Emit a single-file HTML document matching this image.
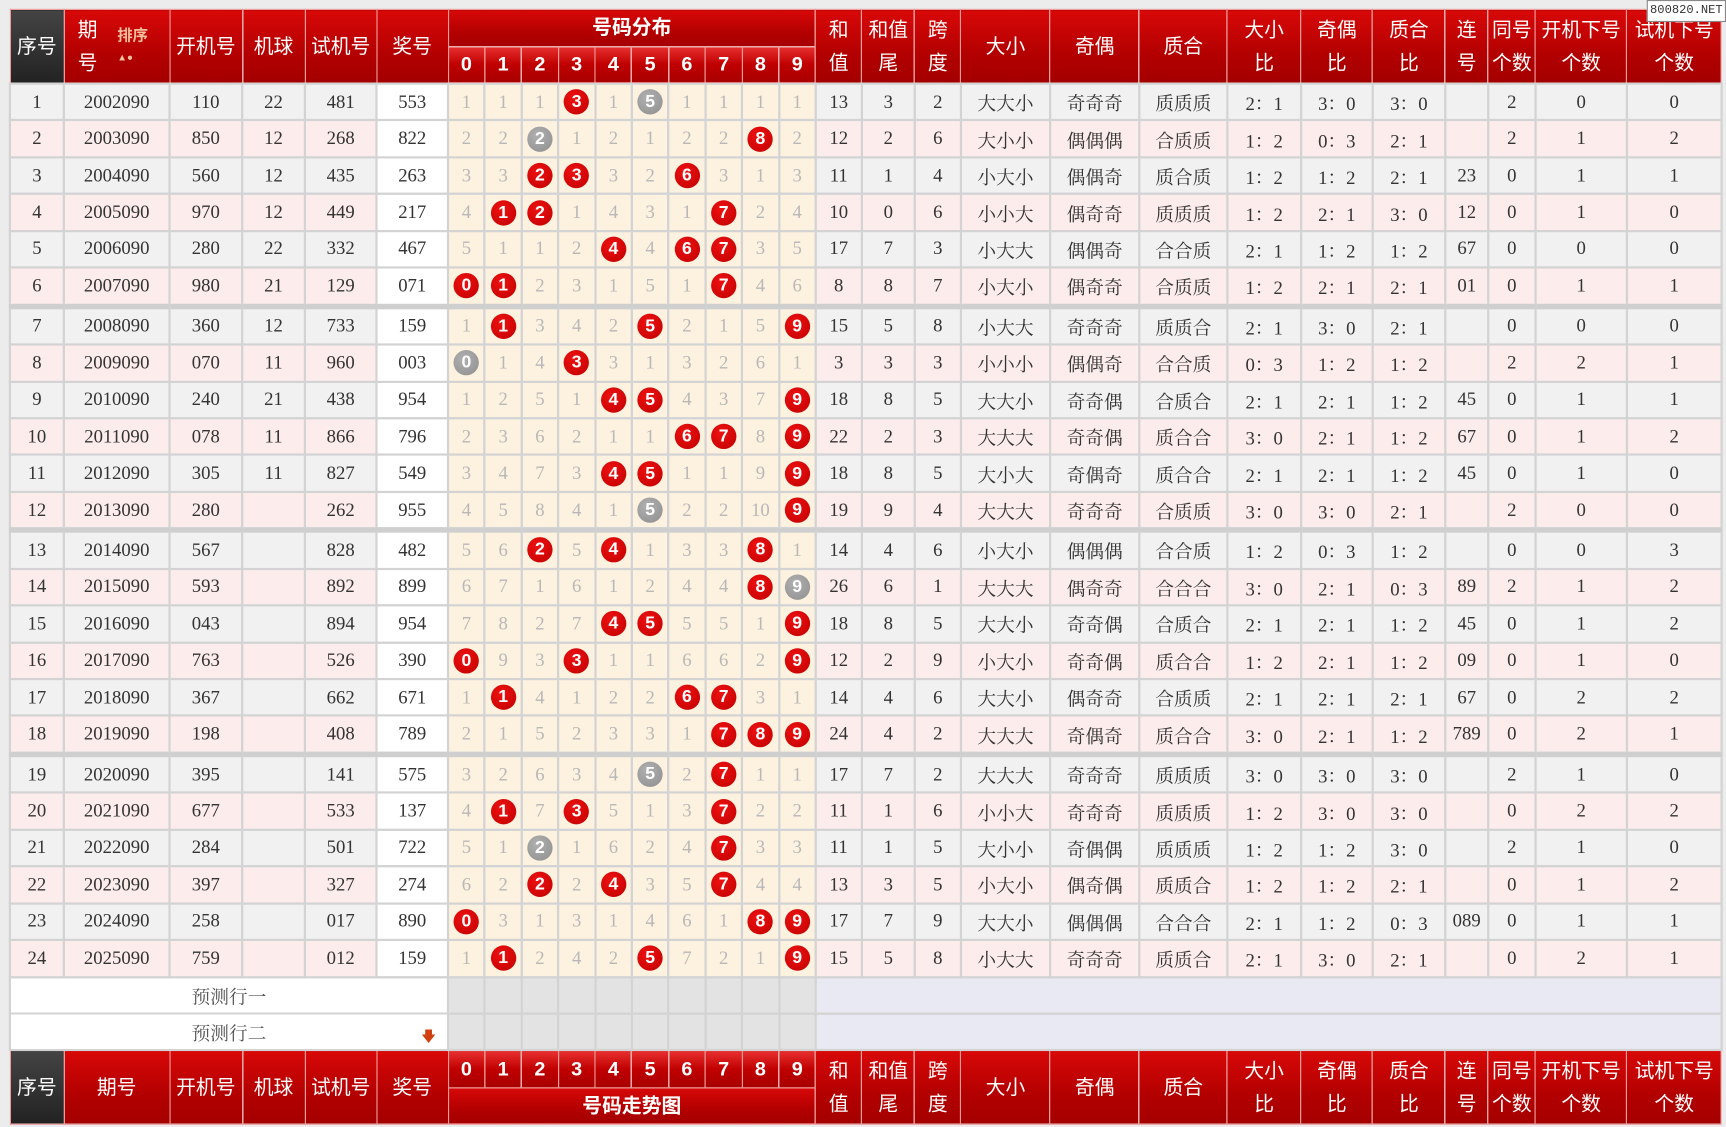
<!DOCTYPE html>
<html><head><meta charset="utf-8">
<style>
html,body{margin:0;padding:0;background:#ececec;width:1726px;height:1127px;overflow:hidden}
#w{position:absolute;left:0;top:0;width:1568px;height:1024px;transform:scale(1.10077,1.10059);transform-origin:0 0;background:#ececec}
table{position:absolute;left:8px;top:8px;border-collapse:collapse;table-layout:fixed;width:1555px}
td,th{border:2px solid #d3d3d3;text-align:center;padding:0;overflow:hidden;white-space:nowrap;
 font-family:"Liberation Serif","Noto Serif CJK SC",serif;font-size:17px;color:#333;font-weight:normal}
th{background:linear-gradient(#d80808,#b30000 60%,#a40000);color:#fff;border:1px solid #e99;
 font-family:"Liberation Sans","Noto Sans CJK SC",sans-serif;font-size:18px;line-height:23px}
th.dk{background:linear-gradient(#444,#222)}
th.dg{font-weight:bold;font-size:18px;background:linear-gradient(#e83030,#c00000 50%,#a80000)}
tr.h th{height:32.5px}
tr.r td{height:31.45px}
tr.o td{background:#f1f1f1}
tr.e td{background:#fcecec}
td.j{background:#fff!important}
td.d{background:#fdf1df!important;color:#b8b8b8}
tr.sep td{border-top:5px solid #cfcfcf}
.b{display:inline-block;width:23px;height:23px;border-radius:50%;background:radial-gradient(circle at 40% 35%,#ee1111,#c00000);color:#fff;
 font:bold 16px/23px "Liberation Sans",sans-serif}
.g{background:radial-gradient(circle at 40% 35%,#b0b0b0,#8e8e8e)}
td.pl{background:#fff;color:#555}
td.pd{background:#e3e3e3}
td.pr{background:#e9e9f3}
#wm{position:absolute;left:1496px;top:0;width:70px;height:18px;background:#fff;border:1px solid #888;font:11px/18px "Liberation Mono",monospace;color:#333;text-align:center}
</style></head><body><div id="w">
<table id="t"></table>
<div id="wm">800820.NET</div>
</div>
<script>
var cw=[49,96,66,57,65,65,33.4,33.4,33.4,33.4,33.4,33.4,33.4,33.4,33.4,33.4,42,48,42,81,81,80,67,65,66,39,43,83,86];
var D=[
["2002090","110","22","481","553","13","3","2","大大小","奇奇奇","质质质","2：1","3：0","3：0","","2","0","0"],
["2003090","850","12","268","822","12","2","6","大小小","偶偶偶","合质质","1：2","0：3","2：1","","2","1","2"],
["2004090","560","12","435","263","11","1","4","小大小","偶偶奇","质合质","1：2","1：2","2：1","23","0","1","1"],
["2005090","970","12","449","217","10","0","6","小小大","偶奇奇","质质质","1：2","2：1","3：0","12","0","1","0"],
["2006090","280","22","332","467","17","7","3","小大大","偶偶奇","合合质","2：1","1：2","1：2","67","0","0","0"],
["2007090","980","21","129","071","8","8","7","小大小","偶奇奇","合质质","1：2","2：1","2：1","01","0","1","1"],
["2008090","360","12","733","159","15","5","8","小大大","奇奇奇","质质合","2：1","3：0","2：1","","0","0","0"],
["2009090","070","11","960","003","3","3","3","小小小","偶偶奇","合合质","0：3","1：2","1：2","","2","2","1"],
["2010090","240","21","438","954","18","8","5","大大小","奇奇偶","合质合","2：1","2：1","1：2","45","0","1","1"],
["2011090","078","11","866","796","22","2","3","大大大","奇奇偶","质合合","3：0","2：1","1：2","67","0","1","2"],
["2012090","305","11","827","549","18","8","5","大小大","奇偶奇","质合合","2：1","2：1","1：2","45","0","1","0"],
["2013090","280","","262","955","19","9","4","大大大","奇奇奇","合质质","3：0","3：0","2：1","","2","0","0"],
["2014090","567","","828","482","14","4","6","小大小","偶偶偶","合合质","1：2","0：3","1：2","","0","0","3"],
["2015090","593","","892","899","26","6","1","大大大","偶奇奇","合合合","3：0","2：1","0：3","89","2","1","2"],
["2016090","043","","894","954","18","8","5","大大小","奇奇偶","合质合","2：1","2：1","1：2","45","0","1","2"],
["2017090","763","","526","390","12","2","9","小大小","奇奇偶","质合合","1：2","2：1","1：2","09","0","1","0"],
["2018090","367","","662","671","14","4","6","大大小","偶奇奇","合质质","2：1","2：1","2：1","67","0","2","2"],
["2019090","198","","408","789","24","4","2","大大大","奇偶奇","质合合","3：0","2：1","1：2","789","0","2","1"],
["2020090","395","","141","575","17","7","2","大大大","奇奇奇","质质质","3：0","3：0","3：0","","2","1","0"],
["2021090","677","","533","137","11","1","6","小小大","奇奇奇","质质质","1：2","3：0","3：0","","0","2","2"],
["2022090","284","","501","722","11","1","5","大小小","奇偶偶","质质质","1：2","1：2","3：0","","2","1","0"],
["2023090","397","","327","274","13","3","5","小大小","偶奇偶","质质合","1：2","1：2","2：1","","0","1","2"],
["2024090","258","","017","890","17","7","9","大大小","偶偶偶","合合合","2：1","1：2","0：3","089","0","1","1"],
["2025090","759","","012","159","15","5","8","小大大","奇奇奇","质质合","2：1","3：0","2：1","","0","2","1"]];
var h='<colgroup>';cw.forEach(function(w){h+='<col style="width:'+w+'px">'});h+='</colgroup>';
var R=['和<br>值','和值<br>尾','跨<br>度','大小','奇偶','质合','大小<br>比','奇偶<br>比','质合<br>比','连<br>号','同号<br>个数','开机下号<br>个数','试机下号<br>个数'];
function rs(){var s='';R.forEach(function(x){s+='<th rowspan="2" style="line-height:30px">'+x+'</th>'});return s}
var dg='';for(var i=0;i<10;i++)dg+='<th class="dg">'+i+'</th>';
h+='<tr class="h"><th class="dk" rowspan="2">序号</th><th rowspan="2" style="text-align:left;padding-left:12px;position:relative;line-height:30px">期<br>号<span style="position:absolute;left:48px;top:14px;font-size:14px;line-height:18px;font-weight:bold;color:#f3c0a0">排序<br><span style="font-size:9px">▲●</span></span></th><th rowspan="2">开机号</th><th rowspan="2">机球</th><th rowspan="2">试机号</th><th rowspan="2">奖号</th><th colspan="10" style="font-weight:bold;font-size:18px">号码分布</th>'+rs()+'</tr><tr class="h">'+dg+'</tr>';
var miss=[0,0,0,0,0,0,0,0,0,0];
D.forEach(function(r,k){
 var cls=(k%2==0?'o':'e')+((k==6||k==12||k==18)?' sep':'');
 var s='<tr class="r '+cls+'"><td>'+(k+1)+'</td>';
 for(var c=0;c<5;c++)s+='<td'+(c==4?' class="j"':'')+'>'+r[c]+'</td>';
 var n=r[4].split('').map(Number);
 for(var d=0;d<10;d++){var cnt=n.filter(function(x){return x==d}).length;
  if(cnt){miss[d]=0;s+='<td class="d"><span class="b'+(cnt>1?' g':'')+'">'+d+'</span></td>'}
  else{miss[d]++;s+='<td class="d">'+miss[d]+'</td>'}}
 for(var c=5;c<18;c++)s+='<td>'+r[c]+'</td>';
 h+=s+'</tr>';});
var pd='';for(var i=0;i<10;i++)pd+='<td class="pd"></td>';
h+='<tr class="r"><td class="pl" colspan="6">预测行一</td>'+pd+'<td class="pr" colspan="13"></td></tr>';
h+='<tr class="r"><td class="pl" colspan="6" style="position:relative">预测行二<span style="position:absolute;right:10px;bottom:-2px;color:#d04010;font-size:13px">🡇</span></td>'+pd+'<td class="pr" colspan="13"></td></tr>';
h+='<tr class="h"><th class="dk" rowspan="2">序号</th><th rowspan="2">期号</th><th rowspan="2">开机号</th><th rowspan="2">机球</th><th rowspan="2">试机号</th><th rowspan="2">奖号</th>'+dg+rs()+'</tr><tr class="h"><th colspan="10" style="font-weight:bold;font-size:18px">号码走势图</th></tr>';
document.getElementById('t').innerHTML=h;
</script>
</body></html>
